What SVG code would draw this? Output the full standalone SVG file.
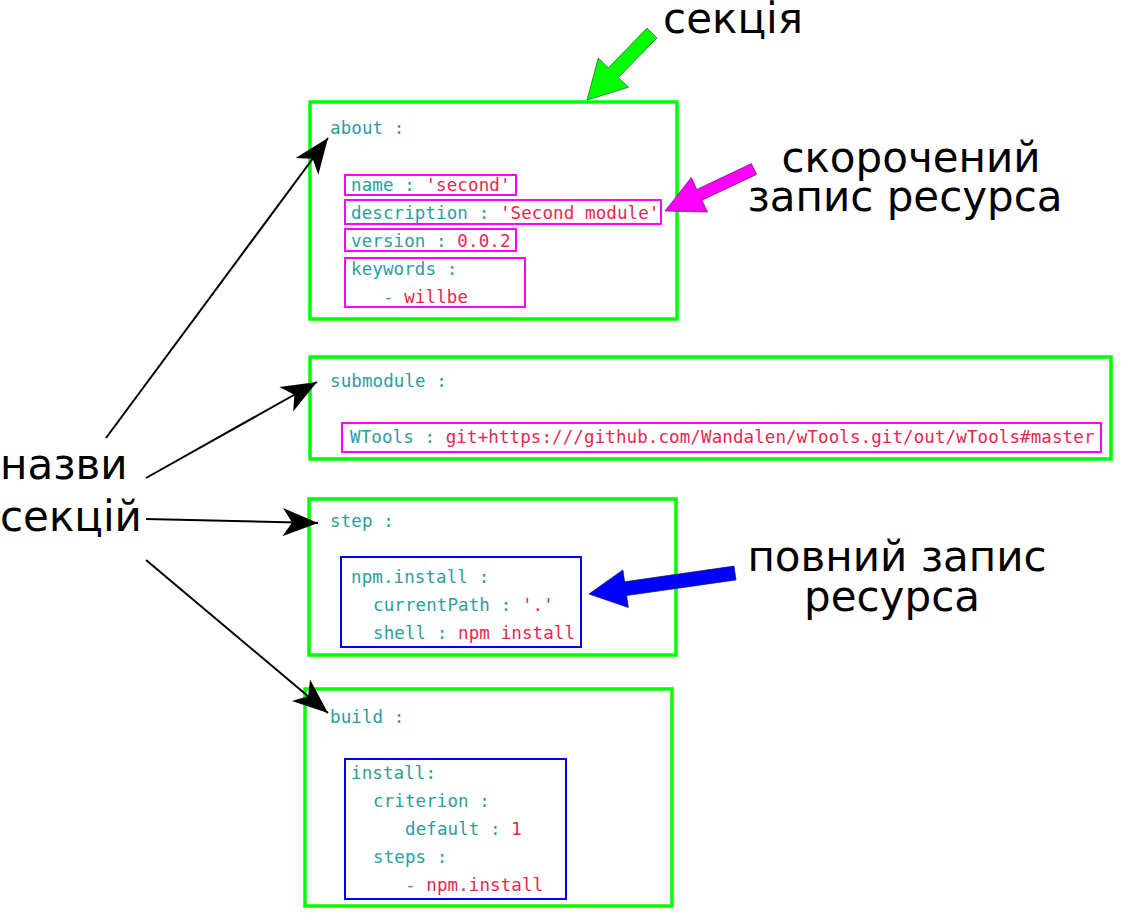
<svg xmlns="http://www.w3.org/2000/svg" width="1139" height="922" viewBox="0 0 1139 922">
<style>
.sec{fill:none;stroke:#00ff00;stroke-width:3.5}
.pk{fill:none;stroke:#ff00ff;stroke-width:2}
.bl{fill:none;stroke:#0000ff;stroke-width:2}
.code{font-family:"DejaVu Sans Mono",monospace;font-size:17.5px;letter-spacing:0.1px}
.k{fill:#2a9d9f}
.v{fill:#e8264f}
.big{font-family:"DejaVu Sans","Noto Sans",sans-serif;font-size:42px;fill:#000}
.conn{fill:none;stroke:#000;stroke-width:2;marker-end:url(#ah)}
</style>
<defs>
<marker id="ah" markerUnits="userSpaceOnUse" markerWidth="40" markerHeight="40" viewBox="-32 -14 34 28" refX="0" refY="0" orient="auto" overflow="visible">
<path d="M0,0 L-30,-12 L-22,0 L-30,12 Z" fill="#000"/>
</marker>
</defs>
<rect width="1139" height="922" fill="#fff"/>

<g id="about">
<rect class="sec" x="310" y="102" width="367" height="217"/>
<text class="code k" x="330" y="134">about :</text>
<rect class="pk" x="345" y="175" width="171" height="20"/>
<text class="code" x="351" y="191"><tspan class="k">name : </tspan><tspan class="v">'second'</tspan></text>
<rect class="pk" x="345" y="200" width="316" height="24"/>
<text class="code" x="351" y="219"><tspan class="k">description : </tspan><tspan class="v">'Second module'</tspan></text>
<rect class="pk" x="345" y="229" width="171" height="22"/>
<text class="code" x="351" y="247"><tspan class="k">version : </tspan><tspan class="v">0.0.2</tspan></text>
<rect class="pk" x="345" y="258" width="180" height="49"/>
<text class="code k" x="351" y="275">keywords :</text>
<text class="code" x="383" y="303"><tspan class="k">- </tspan><tspan class="v">willbe</tspan></text>
</g>

<g id="submodule">
<rect class="sec" x="310" y="357" width="801" height="102"/>
<text class="code k" x="330" y="387">submodule :</text>
<rect class="pk" x="342" y="423" width="759" height="29"/>
<text class="code" x="350" y="443"><tspan class="k">WTools : </tspan><tspan class="v">git+https:///github.com/Wandalen/wTools.git/out/wTools#master</tspan></text>
</g>

<g id="step">
<rect class="sec" x="309" y="499" width="367" height="156"/>
<text class="code k" x="330" y="527">step :</text>
<rect class="bl" x="341" y="557" width="240" height="90"/>
<text class="code k" x="351" y="583">npm.install :</text>
<text class="code" x="373" y="611"><tspan class="k">currentPath : </tspan><tspan class="v">'.'</tspan></text>
<text class="code" x="373" y="639"><tspan class="k">shell : </tspan><tspan class="v">npm install</tspan></text>
</g>

<g id="build">
<rect class="sec" x="305" y="689" width="367" height="217"/>
<text class="code k" x="330" y="723">build :</text>
<rect class="bl" x="345" y="759" width="221" height="140"/>
<text class="code k" x="351" y="779">install:</text>
<text class="code k" x="373" y="807">criterion :</text>
<text class="code" x="405" y="835"><tspan class="k">default : </tspan><tspan class="v">1</tspan></text>
<text class="code k" x="373" y="863">steps :</text>
<text class="code" x="405" y="891"><tspan class="k">- </tspan><tspan class="v">npm.install</tspan></text>
</g>

<g id="label-section">
<text class="big" x="733" y="33" text-anchor="middle">секція</text>
</g>
<g id="label-short">
<text class="big" x="911" y="172" text-anchor="middle">скорочений</text>
<text class="big" x="905" y="211" text-anchor="middle">запис ресурса</text>
</g>
<g id="label-full">
<text class="big" x="897" y="571" text-anchor="middle">повний запис</text>
<text class="big" x="892" y="611" text-anchor="middle">ресурса</text>
</g>
<g id="label-names">
<text class="big" x="0" y="479">назви</text>
<text class="big" x="0" y="531">секцій</text>
</g>

<g id="connectors">
<path class="conn" d="M106,438 L328,138"/>
<path class="conn" d="M146,478 L317,382"/>
<path class="conn" d="M146,519 L318,523"/>
<path class="conn" d="M146,560 L328,713"/>
<polygon fill="#00ff00" stroke="#1a5a1a" stroke-width="0.7" points="647.0,28.1 657.0,37.9 618.4,77.6 628.5,87.3 587,100 598.3,58.1 608.4,67.8"/>
<polygon fill="#ff00ff" stroke="#5a1a5a" stroke-width="0.7" points="751.4,163.6 756.6,174.4 702.0,200.2 707.5,212.0 665,211 691.3,177.6 696.8,189.4"/>
<polygon fill="#0000ff" stroke="#10105a" stroke-width="0.7" points="734.0,566.1 736.0,579.9 626.6,595.6 628.3,607.5 589,594 622.9,569.9 624.6,581.8"/>
</g>
</svg>
